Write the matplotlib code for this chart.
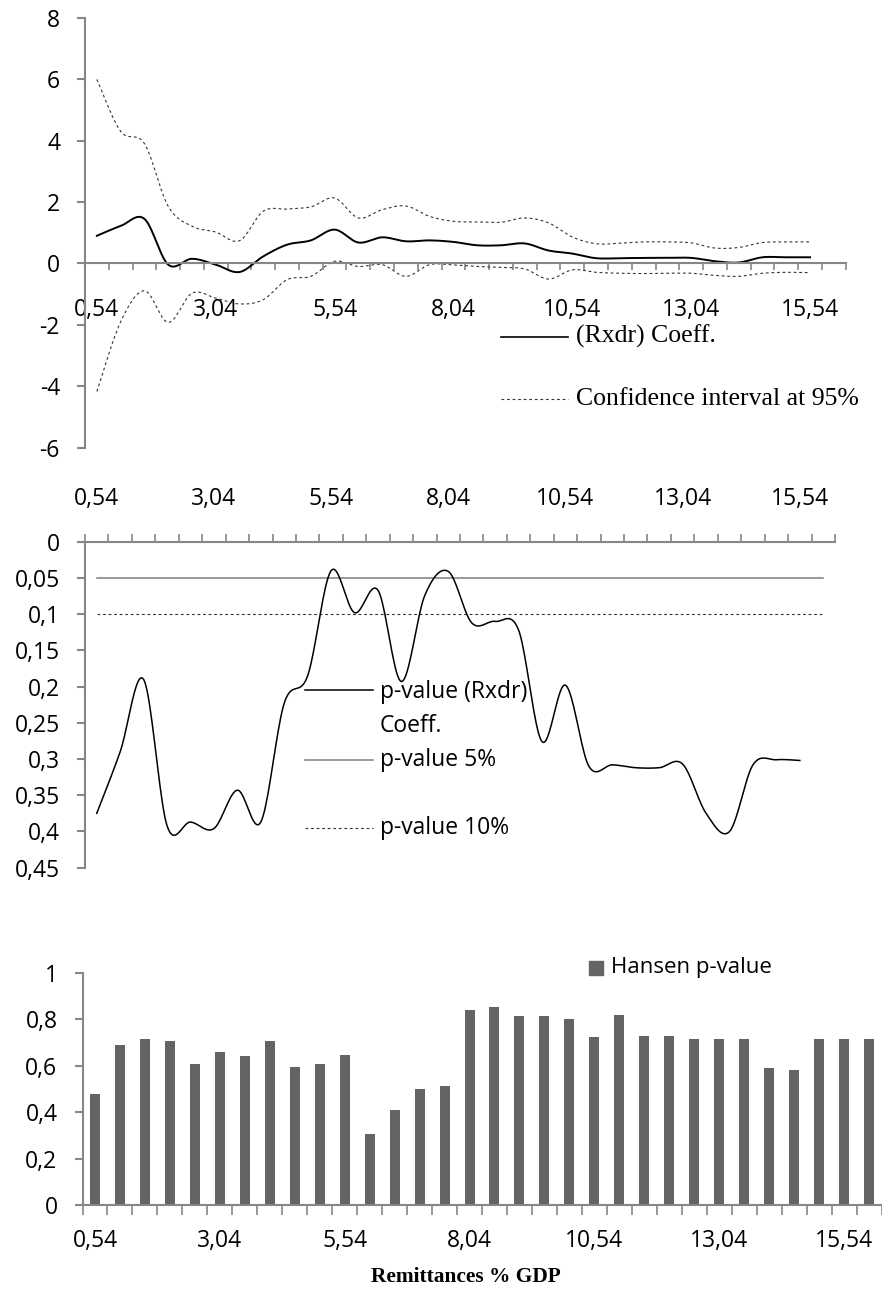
import numpy as np
import matplotlib
matplotlib.use("Agg")
import matplotlib.pyplot as plt
from matplotlib.lines import Line2D

W, H = 882, 1291
SANS = "Open Sans"
SERIF = "Liberation Serif"
AXIS_GRAY = "#868686"
TICK_SIZE = 16.5

plt.rcParams["font.family"] = [SANS, "DejaVu Sans"]

# threshold values (% GDP) on the category axis
categories = ["0,54", "1,04", "1,54", "2,04", "2,54", "3,04", "3,54", "4,04",
              "4,54", "5,04", "5,54", "6,04", "6,54", "7,04", "7,54", "8,04",
              "8,54", "9,04", "9,54", "10,04", "10,54", "11,04", "11,54", "12,04",
              "12,54", "13,04", "13,54", "14,04", "14,54", "15,04", "15,54", "16,04"]
label_idx = [0, 5, 10, 15, 20, 25, 30]

# top panel: coefficient and 95% band
coeff = [0.90, 1.22, 1.45, -0.04, 0.15, -0.04, -0.28, 0.23, 0.61, 0.75, 1.10,
         0.68, 0.85, 0.72, 0.75, 0.70, 0.59, 0.59, 0.65, 0.42, 0.32, 0.17,
         0.17, 0.18, 0.18, 0.18, 0.07, 0.03, 0.20, 0.20, 0.20]
ci_upper = [5.99, 4.30, 3.90, 1.86, 1.21, 1.02, 0.74, 1.70, 1.77, 1.84, 2.13,
            1.48, 1.75, 1.87, 1.53, 1.37, 1.35, 1.34, 1.48, 1.32, 0.86, 0.64,
            0.66, 0.70, 0.70, 0.67, 0.50, 0.52, 0.68, 0.70, 0.70]
ci_lower = [-4.17, -1.90, -0.89, -1.92, -0.97, -1.13, -1.32, -1.18, -0.53, -0.42,
            0.07, -0.10, -0.04, -0.42, -0.04, -0.05, -0.10, -0.13, -0.18, -0.51,
            -0.21, -0.29, -0.32, -0.33, -0.32, -0.32, -0.39, -0.42, -0.32, -0.29,
            -0.30]
coef_yticks = [-6, -4, -2, 0, 2, 4, 6, 8]
coef_ylabels = ["-6", "-4", "-2", "0", "2", "4", "6", "8"]

# middle panel: p-values
pvalue = [0.375, 0.290, 0.190, 0.392, 0.387, 0.396, 0.343, 0.387, 0.223, 0.185,
          0.040, 0.098, 0.067, 0.193, 0.074, 0.041, 0.112, 0.110, 0.122, 0.276,
          0.198, 0.310, 0.308, 0.312, 0.312, 0.307, 0.375, 0.400, 0.308, 0.301,
          0.302]
p5 = [0.05] * 32
p10 = [0.10] * 32
p_yticks = [0, 0.05, 0.1, 0.15, 0.2, 0.25, 0.3, 0.35, 0.4, 0.45]
p_ylabels = ["0", "0,05", "0,1", "0,15", "0,2", "0,25", "0,3", "0,35", "0,4", "0,45"]

# bottom panel: Hansen test
hansen = [0.478, 0.690, 0.714, 0.706, 0.607, 0.659, 0.640, 0.707, 0.595, 0.605,
          0.644, 0.307, 0.407, 0.498, 0.511, 0.841, 0.854, 0.815, 0.815, 0.799,
          0.722, 0.819, 0.727, 0.727, 0.714, 0.714, 0.714, 0.590, 0.581, 0.714,
          0.714, 0.716]
h_yticks = [0, 0.2, 0.4, 0.6, 0.8, 1]
h_ylabels = ["0", "0,2", "0,4", "0,6", "0,8", "1"]


def smooth(y, n=20):
    # excel style smoothed line (bezier through the points)
    y = np.asarray(y, float)
    x = np.arange(len(y), dtype=float)
    px = np.concatenate([[x[0]], x, [x[-1]]])
    py = np.concatenate([[y[0]], y, [y[-1]]])
    t = np.linspace(0, 1, n, endpoint=False)
    xs, ys = [], []
    for i in range(len(y) - 1):
        p0x, p1x = px[i + 1], px[i + 2]
        p0y, p1y = py[i + 1], py[i + 2]
        c1x = p0x + (px[i + 2] - px[i]) / 6
        c1y = p0y + (py[i + 2] - py[i]) / 6
        c2x = p1x - (px[i + 3] - px[i + 1]) / 6
        c2y = p1y - (py[i + 3] - py[i + 1]) / 6
        b0 = (1 - t) ** 3
        b1 = 3 * (1 - t) ** 2 * t
        b2 = 3 * (1 - t) * t ** 2
        b3 = t ** 3
        xs.append(b0 * p0x + b1 * c1x + b2 * c2x + b3 * p1x)
        ys.append(b0 * p0y + b1 * c1y + b2 * c2y + b3 * p1y)
    xs.append([x[-1]])
    ys.append([y[-1]])
    return np.concatenate(xs), np.concatenate(ys)


def rect(left, top, right, bottom):
    return [left / W, 1 - bottom / H, (right - left) / W, (bottom - top) / H]


def fx(px):
    return px / W


def fy(py):
    return 1 - py / H


def style_axes(ax, yticks, ylabels):
    for s in ax.spines.values():
        s.set_color(AXIS_GRAY)
        s.set_linewidth(1.5)
    ax.set_xlim(-0.5, len(categories) - 0.5)
    ax.set_xticks(label_idx)
    ax.set_xticklabels([categories[i] for i in label_idx])
    ax.set_xticks(np.arange(-0.5, len(categories), 1), minor=True)
    ax.set_yticks(yticks)
    ax.set_yticklabels(ylabels)
    ax.tick_params(axis="y", length=6, width=1.5, color=AXIS_GRAY, pad=12,
                   labelsize=TICK_SIZE)
    ax.tick_params(axis="x", which="major", labelsize=TICK_SIZE)
    ax.patch.set_alpha(0)


fig = plt.figure(figsize=(W / 100, H / 100), dpi=100)
idx = np.arange(len(categories))

# ---- top: coefficient with confidence interval
ax1 = fig.add_axes(rect(85, 17.7, 845.7, 447.7))
ax1.spines["top"].set_visible(False)
ax1.spines["right"].set_visible(False)
ax1.spines["bottom"].set_position(("data", 0))
ax1.set_ylim(-6, 8)
style_axes(ax1, coef_yticks, coef_ylabels)
ax1.tick_params(axis="x", which="major", length=0, pad=25)
ax1.tick_params(axis="x", which="minor", length=5, width=1.2, color=AXIS_GRAY,
                direction="out")
xs, ys = smooth(ci_upper)
ax1.plot(xs, ys, color="#333333", lw=0.8, ls=(0, (2.5, 2.5)))
xs, ys = smooth(ci_lower)
ax1.plot(xs, ys, color="#333333", lw=0.8, ls=(0, (2.5, 2.5)))
xs, ys = smooth(coeff)
ax1.plot(xs, ys, color="black", lw=1.4)

fig.add_artist(Line2D([fx(500.7), fx(568)], [fy(336.7), fy(336.7)], color="black", lw=1.2))
fig.text(fx(576), fy(336.7), "(Rxdr) Coeff.", fontfamily=SERIF, fontsize=18.5,
         va="center", ha="left")
fig.add_artist(Line2D([fx(500.7), fx(568)], [fy(399), fy(399)], color="#333333",
                      lw=0.8, ls=(0, (2.5, 2.5))))
fig.text(fx(576), fy(399), "Confidence interval at 95%", fontfamily=SERIF,
         fontsize=18.5, va="center", ha="left")

# ---- middle: p-values (inverted axis)
ax2 = fig.add_axes(rect(85, 541.7, 835, 867.7))
ax2.spines["bottom"].set_visible(False)
ax2.spines["right"].set_visible(False)
ax2.xaxis.tick_top()
ax2.set_ylim(0.45, 0)
style_axes(ax2, p_yticks, p_ylabels)
ax2.tick_params(axis="x", which="major", length=0, pad=22)
ax2.tick_params(axis="x", which="minor", length=6, width=1.2, color=AXIS_GRAY,
                direction="out")
ax2.plot(idx, p5, color="#7f7f7f", lw=1.1)
ax2.plot(idx, p10, color="#333333", lw=0.8, ls=(0, (2.5, 2.5)))
xs, ys = smooth(pvalue)
ax2.plot(xs, ys, color="black", lw=1.1)

fig.add_artist(Line2D([fx(305), fx(373)], [fy(690), fy(690)], color="black", lw=1.1))
fig.text(fx(380), fy(709), "p-value (Rxdr)\nCoeff.", fontsize=16.5,
         va="center", ha="left", linespacing=1.55)
fig.add_artist(Line2D([fx(305), fx(373)], [fy(760), fy(760)], color="#7f7f7f", lw=1.1))
fig.text(fx(380), fy(760), "p-value 5%", fontsize=16.5, va="center", ha="left")
fig.add_artist(Line2D([fx(305), fx(373)], [fy(828), fy(828)], color="#333333",
                      lw=0.8, ls=(0, (2.5, 2.5))))
fig.text(fx(380), fy(828), "p-value 10%", fontsize=16.5, va="center", ha="left")

# ---- bottom: Hansen p-value bars
ax3 = fig.add_axes(rect(82.5, 972.7, 881.5, 1205))
ax3.bar(idx, hansen, width=0.4, color="#646464")
ax3.spines["top"].set_visible(False)
ax3.spines["right"].set_visible(False)
ax3.set_ylim(0, 1)
style_axes(ax3, h_yticks, h_ylabels)
ax3.tick_params(axis="x", which="major", length=0, pad=17)
ax3.tick_params(axis="x", which="minor", length=7, width=1.2, color=AXIS_GRAY,
                direction="out")

fig.patches.append(plt.Rectangle((fx(589), fy(975)), 14 / W, 14 / H,
                                 transform=fig.transFigure, color="#646464"))
fig.text(fx(611), fy(968), "Hansen p-value", fontsize=16, va="center", ha="left")

fig.text(fx(466), fy(1277), "Remittances % GDP", fontfamily=SERIF, fontsize=15.4,
         fontweight="bold", va="center", ha="center")

fig.savefig("out.png", dpi=100)
